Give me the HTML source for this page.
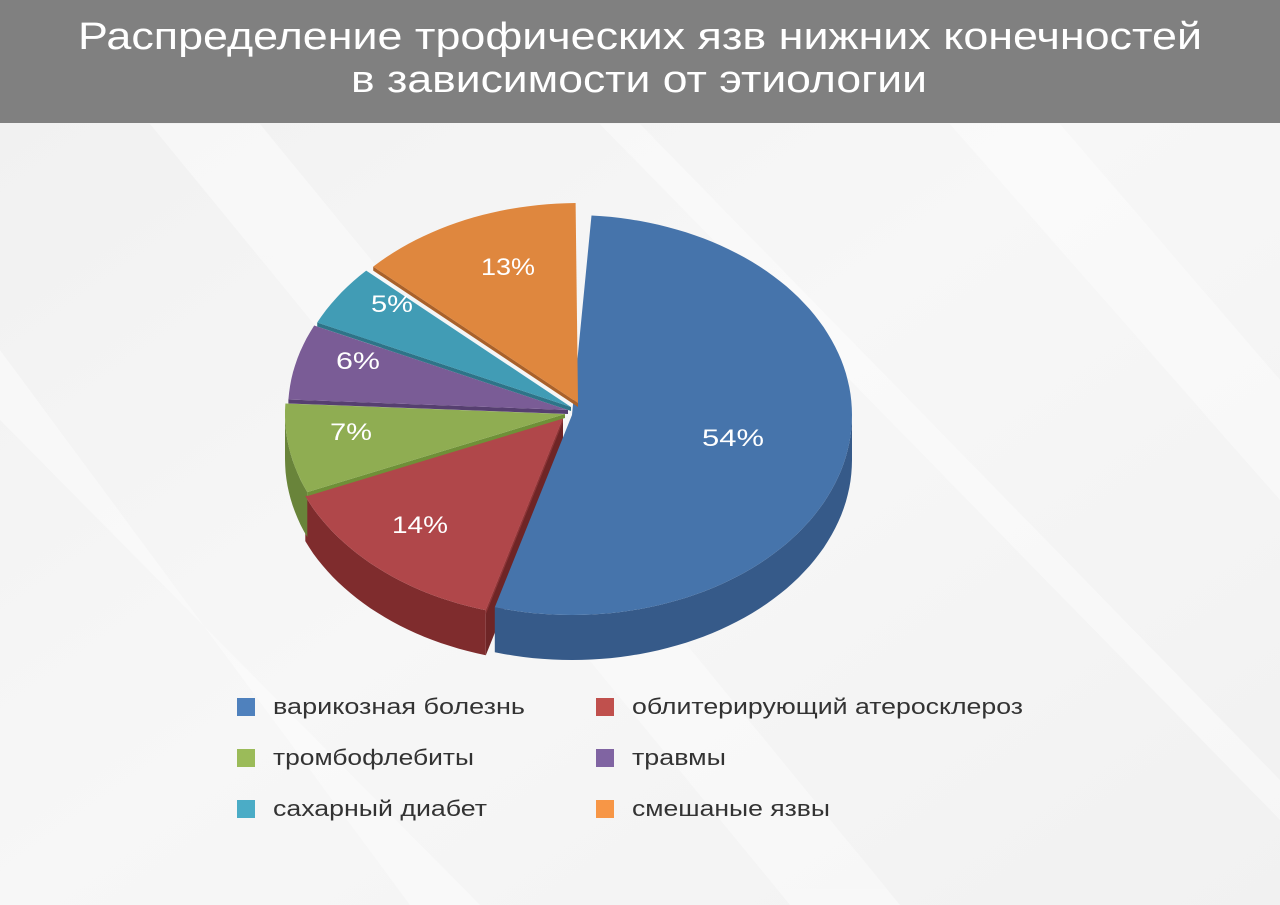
<!DOCTYPE html>
<html><head><meta charset="utf-8"><style>
html,body{margin:0;padding:0;width:1280px;height:905px;overflow:hidden;background:#f4f4f4}
svg{display:block}
</style></head><body>
<svg id="s" width="1280" height="905" xmlns="http://www.w3.org/2000/svg" font-family="'Liberation Sans', sans-serif">
<defs>
<linearGradient id="bg" x1="0" y1="0" x2="1" y2="1">
<stop offset="0" stop-color="#f0f0f0"/><stop offset="0.5" stop-color="#f7f7f7"/><stop offset="1" stop-color="#f1f1f1"/>
</linearGradient>
</defs>
<rect width="1280" height="905" fill="url(#bg)"/>
<g opacity="0.4" fill="#ffffff">
<polygon points="150,124 260,124 900,905 790,905"/>
<polygon points="600,124 640,124 1280,780 1280,820"/>
<polygon points="0,350 0,420 480,905 410,905"/>
<polygon points="950,124 1060,124 1280,380 1280,500"/>
</g>
<rect width="1280" height="123" fill="#808080"/>
<text x="640" y="49" fill="#fff" font-size="38" text-anchor="middle" textLength="1124" lengthAdjust="spacingAndGlyphs">Распределение трофических язв нижних конечностей</text>
<text x="639" y="92" fill="#fff" font-size="38" text-anchor="middle" textLength="576" lengthAdjust="spacingAndGlyphs">в зависимости от этиологии</text>
<g id="pie"></g>
<g font-size="24" fill="#fff" text-anchor="middle">
<text x="733" y="446" textLength="62" lengthAdjust="spacingAndGlyphs">54%</text>
<text x="420" y="533" textLength="56" lengthAdjust="spacingAndGlyphs">14%</text>
<text x="351" y="440" textLength="42" lengthAdjust="spacingAndGlyphs">7%</text>
<text x="358" y="369" textLength="44" lengthAdjust="spacingAndGlyphs">6%</text>
<text x="392" y="312" textLength="42" lengthAdjust="spacingAndGlyphs">5%</text>
<text x="508" y="275" textLength="54" lengthAdjust="spacingAndGlyphs">13%</text>
</g>
<g font-size="22" fill="#333">
<rect x="237" y="698" width="18" height="18" fill="#4f81bd"/><text x="273" y="714" textLength="252" lengthAdjust="spacingAndGlyphs">варикозная болезнь</text>
<rect x="596" y="698" width="18" height="18" fill="#c0504d"/><text x="632" y="714" textLength="391" lengthAdjust="spacingAndGlyphs">облитерирующий атеросклероз</text>
<rect x="237" y="749" width="18" height="18" fill="#9bbb59"/><text x="273" y="765" textLength="201" lengthAdjust="spacingAndGlyphs">тромбофлебиты</text>
<rect x="596" y="749" width="18" height="18" fill="#8064a2"/><text x="632" y="765" textLength="94" lengthAdjust="spacingAndGlyphs">травмы</text>
<rect x="237" y="800" width="18" height="18" fill="#4bacc6"/><text x="273" y="816" textLength="214" lengthAdjust="spacingAndGlyphs">сахарный диабет</text>
<rect x="596" y="800" width="18" height="18" fill="#f79646"/><text x="632" y="816" textLength="198" lengthAdjust="spacingAndGlyphs">смешаные язвы</text>
</g>
</svg>
<script>
(function(){
var rx=280,ry=200,D=45;
var sl=[
 {a:4,b:196,cx:572,cy:415,top:'#4674ab',side:'#365a89'},
 {a:196,b:247,cx:563,cy:418,top:'#b0474a',side:'#7f2c2d',cut:1,edge:'#8e3436'},
 {a:247,b:273,cx:565,cy:414,top:'#8fad52',side:'#69843a',edge:'#6f9038'},
 {a:273,b:295,cx:568,cy:410,top:'#7a5c96',side:'#573f70',edge:'#563f70'},
 {a:295,b:313,cx:571,cy:407,top:'#419cb5',side:'#2e7488',edge:'#2e7488'},
 {a:313,b:359.5,cx:578,cy:403,top:'#df873e',side:'#a9612a',edge:'#a9612a'}
];
function P(s,t,dy){var r=t*Math.PI/180;return [s.cx+rx*Math.sin(r),s.cy-ry*Math.cos(r)+(dy||0)];}
function arc(s,a,b,dy){var p='',n=Math.max(4,Math.ceil((b-a)/2));for(var i=0;i<=n;i++){var q=P(s,a+(b-a)*i/n,dy);p+=(i?'L':'')+q[0].toFixed(1)+','+q[1].toFixed(1);}return p;}
var out='';
sl.forEach(function(s){
 if(s.cut){var q=P(s,s.a);
   out+='<path d="M'+s.cx+','+s.cy+'L'+q[0]+','+q[1]+'L'+q[0]+','+(q[1]+D)+'L'+s.cx+','+(s.cy+D)+'Z" fill="#6e2526"/>';}
});
sl.forEach(function(s){
 var a=Math.max(s.a,90),b=Math.min(s.b,270);
 if(b>a){
  var top=arc(s,a,b,0);
  var bot='',n=Math.ceil((b-a)/2);
  for(var i=n;i>=0;i--){var q=P(s,a+(b-a)*i/n,D);bot+='L'+q[0].toFixed(1)+','+q[1].toFixed(1);}
  out+='<path d="M'+top+bot+'Z" fill="'+s.side+'"/>';
 }
});
sl.forEach(function(s){
 if(s.edge){var q=P(s,s.a);out+='<path d="M'+s.cx+','+(s.cy+4)+'L'+q[0]+','+(q[1]+4)+'L'+q[0]+','+q[1]+'L'+s.cx+','+s.cy+'Z" fill="'+s.edge+'"/>';}
 out+='<path d="M'+s.cx+','+s.cy+'L'+arc(s,s.a,s.b,0)+'Z" fill="'+s.top+'"/>';
});
document.getElementById('pie').innerHTML=out;
})();
</script>
</body></html>
